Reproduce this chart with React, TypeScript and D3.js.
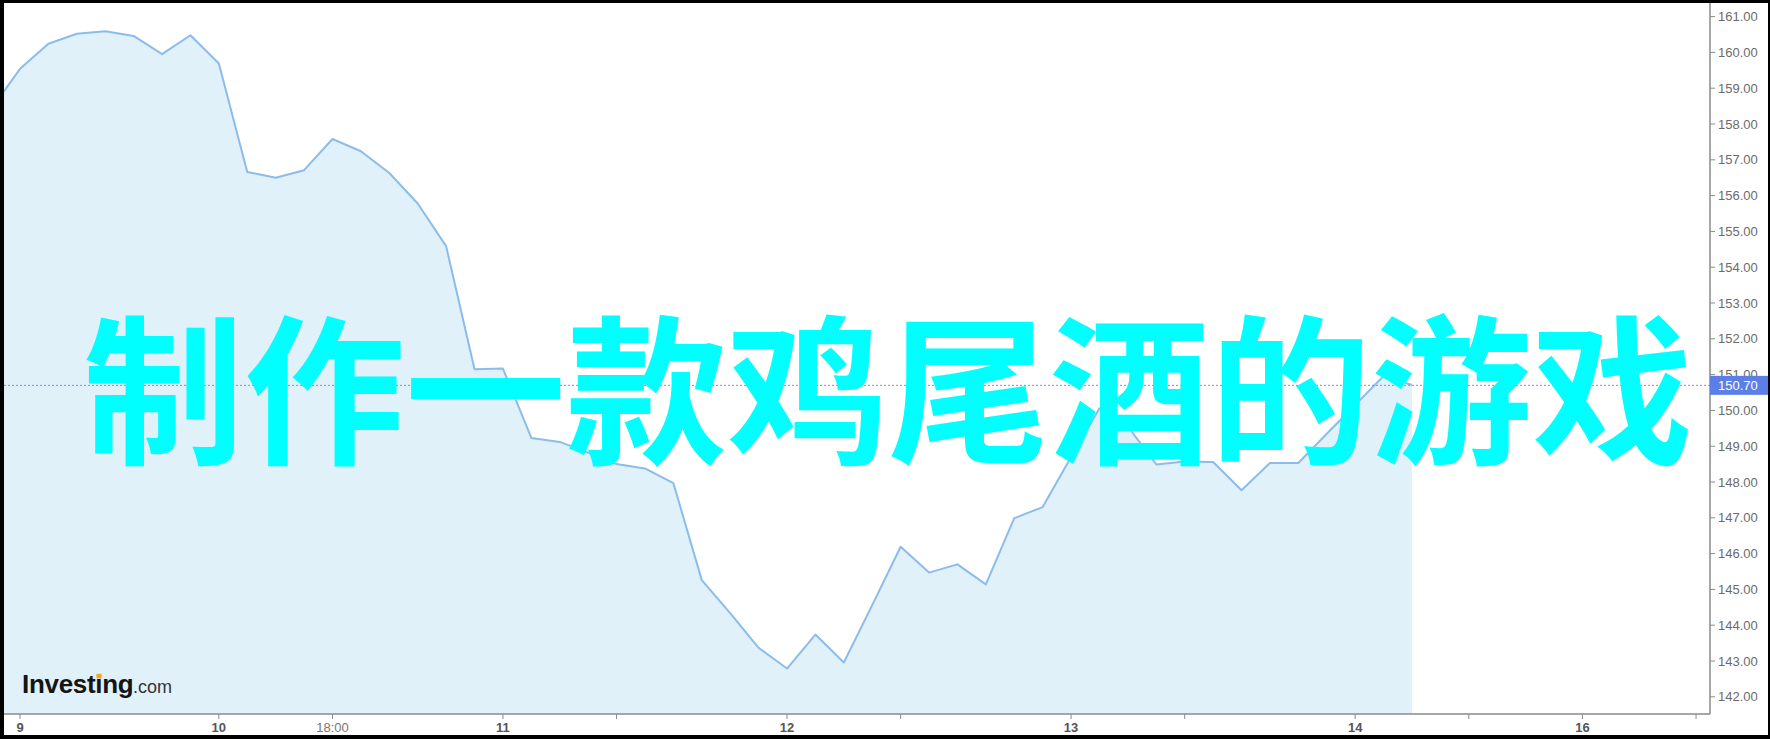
import React from "react";
import * as d3 from "d3";

// ---- data ----
const startIndex = -1;
const prices: number[] = [
  158.43, 159.54, 160.24, 160.52, 160.59, 160.46, 159.95, 160.48, 159.69, 156.66,
  156.5, 156.71, 157.58, 157.24, 156.63, 155.78, 154.59, 151.15, 151.17, 149.23,
  149.12, 148.82, 148.5, 148.38, 147.97, 145.26, 144.34, 143.37, 142.79, 143.74,
  142.96, 144.56, 146.19, 145.47, 145.7, 145.14, 146.99, 147.3, 148.7, 150.06,
  149.55, 148.49, 148.57, 148.56, 147.77, 148.53, 148.53, 149.35, 150.15, 150.96,
  150.71,
];
const xTickIndex = [0, 7, 11, 17, 21, 27, 31, 37, 41, 47, 51, 55, 59];
const xTickLabels = ["9", "10", "18:00", "11", "", "12", "", "13", "", "14", "", "16", ""];
const yTicks = [142, 143, 144, 145, 146, 147, 148, 149, 150, 151, 152, 153, 154, 155, 156, 157, 158, 159, 160, 161];
const lastPrice = 150.7;
const title = "制作一款鸡尾酒的游戏";

const W = 1770;
const H = 739;
const plotLeft = 4;
const plotRight = 1710;
const plotTop = 3;
const plotBottom = 714;

export default function App() {
  const x = d3.scaleLinear().domain([0, 27]).range([20, 787]);
  const y = d3.scaleLinear().domain([141.52, 161.38]).range([plotBottom, plotTop]);
  const pts = prices.map((v, k) => ({ i: k + startIndex, v }));

  const area = d3
    .area<{ i: number; v: number }>()
    .x((d) => x(d.i))
    .y0(plotBottom)
    .y1((d) => y(d.v));
  const line = d3
    .line<{ i: number; v: number }>()
    .x((d) => x(d.i))
    .y((d) => y(d.v));

  const axisFont = "'Liberation Sans', Arial, sans-serif";
  const ly = y(lastPrice);

  return (
    <svg
      width={W}
      height={H}
      style={{ position: "absolute", left: 0, top: 0, background: "#fff" }}
    >
      <defs>
        <clipPath id="plotClip">
          <rect x={plotLeft} y={plotTop} width={plotRight - plotLeft} height={plotBottom - plotTop} />
        </clipPath>
      </defs>
      <rect x={0} y={0} width={W} height={H} fill="#fff" />
      <g clipPath="url(#plotClip)">
        <path d={area(pts) || ""} fill="#e1f1fa" />
        <path d={line(pts) || ""} fill="none" stroke="#8bbcea" strokeWidth={2} strokeLinejoin="round" />
        <line
          x1={plotLeft}
          x2={plotRight}
          y1={ly}
          y2={ly}
          stroke="#7f8ce0"
          strokeWidth={1}
          strokeDasharray="2,2"
        />
      </g>

      {/* right axis */}
      <line x1={plotRight} x2={plotRight} y1={plotTop} y2={plotBottom} stroke="#8a8a8a" strokeWidth={1.5} />
      {yTicks.map((t) => (
        <g key={t}>
          <line x1={plotRight} x2={plotRight + 5} y1={y(t)} y2={y(t)} stroke="#8a8a8a" strokeWidth={1} />
          <text
            x={plotRight + 8}
            y={y(t)}
            dy="0.35em"
            fontFamily={axisFont}
            fontSize={13}
            fill="#6b6b6b"
          >
            {t.toFixed(2)}
          </text>
        </g>
      ))}

      {/* bottom axis */}
      <line x1={plotLeft} x2={plotRight} y1={plotBottom} y2={plotBottom} stroke="#8a8a8a" strokeWidth={1.5} />
      {xTickIndex.map((ti, k) => (
        <g key={ti}>
          <line x1={x(ti)} x2={x(ti)} y1={plotBottom} y2={plotBottom + 5} stroke="#8a8a8a" strokeWidth={1} />
          {xTickLabels[k] && (
            <text
              x={x(ti)}
              y={727}
              dy="0.35em"
              textAnchor="middle"
              fontFamily={axisFont}
              fontSize={13}
              fontWeight={xTickLabels[k].includes(":") ? 400 : 700}
              fill={xTickLabels[k].includes(":") ? "#777" : "#555"}
            >
              {xTickLabels[k]}
            </text>
          )}
        </g>
      ))}

      {/* last price label */}
      <rect x={plotRight} y={ly - 9.5} width={W - plotRight} height={19} fill="#5b7fe6" />
      <text
        x={plotRight + 8}
        y={ly}
        dy="0.36em"
        fontFamily={axisFont}
        fontSize={13}
        fill="#fff"
      >
        {lastPrice.toFixed(2)}
      </text>

      {/* logo */}
      <text x={22} y={693} fontFamily={axisFont} fontSize={26} fontWeight={700} fill="#151515" letterSpacing={-0.3}>
        Investing
      </text>
      <text x={133} y={693} fontFamily={axisFont} fontSize={18} fill="#333">
        .com
      </text>
      <rect x={96.6} y={673.8} width={5} height={4.6} fill="#f5a623" />

      {/* overlay title */}
      <text
        x={888}
        y={452}
        textAnchor="middle"
        fontFamily="'Noto Sans CJK SC', sans-serif"
        fontWeight={700}
        fontSize={161}
        fill="#00ffff"
      >
        {title}
      </text>

      {/* black frame */}
      <rect x={0} y={0} width={W} height={3} fill="#000" />
      <rect x={0} y={0} width={4} height={H} fill="#000" />
      <rect x={0} y={735} width={W} height={4} fill="#000" />
      <rect x={W - 2} y={0} width={2} height={H} fill="#000" />
    </svg>
  );
}
